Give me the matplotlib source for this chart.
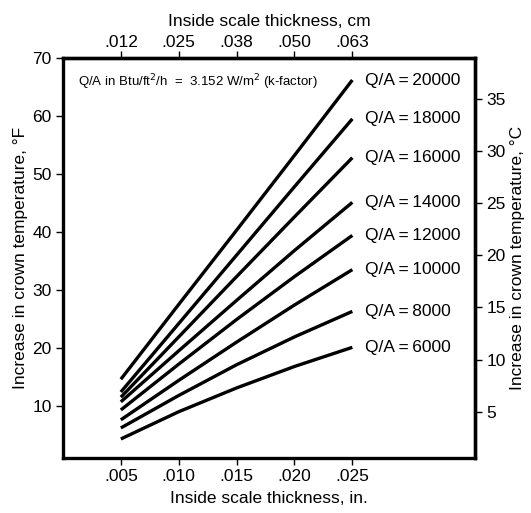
import numpy as np
import matplotlib.pyplot as plt

plt.rcParams['font.family'] = ['Liberation Sans', 'DejaVu Sans']

# inside scale thickness, in.
thickness = [0.005, 0.010, 0.015, 0.020, 0.025]

# increase in crown temperature, F  (one list per heat flux Q/A)
q_values = [20000, 18000, 16000, 14000, 12000, 10000, 8000, 6000]
rise_20000 = [14.6, 27.5, 40.3, 53.2, 66.2]
rise_18000 = [12.4, 24.2, 36.0, 47.8, 59.5]
rise_16000 = [11.5, 21.9, 32.3, 42.6, 52.8]
rise_14000 = [10.7, 19.5, 28.2, 36.8, 45.1]
rise_12000 = [9.3, 17.2, 24.9, 32.3, 39.4]
rise_10000 = [7.6, 14.4, 21.0, 27.4, 33.5]
rise_8000 = [6.2, 11.8, 17.1, 21.9, 26.3]
rise_6000 = [4.3, 9.0, 13.1, 16.8, 20.1]
rises = [rise_20000, rise_18000, rise_16000, rise_14000,
         rise_12000, rise_10000, rise_8000, rise_6000]

bottom_ticks = [0.005, 0.010, 0.015, 0.020, 0.025]
bottom_labels = ['.005', '.010', '.015', '.020', '.025']
top_ticks = [0.0127, 0.0254, 0.0381, 0.0508, 0.0635]
top_labels = ['.012', '.025', '.038', '.050', '.063']
left_ticks = [10, 20, 30, 40, 50, 60, 70]
right_ticks = [5, 10, 15, 20, 25, 30, 35]

fig = plt.figure(figsize=(5.31, 5.13), dpi=100)
ax = fig.add_axes([0.1186, 0.107, 0.776, 0.780])

for q, r in zip(q_values, rises):
    ax.plot(thickness, r, color='black', lw=2.4, solid_capstyle='butt',
            solid_joinstyle='round')
    ax.text(thickness[-1] + 0.0011, r[-1], 'Q/A\u2009=\u2009%d' % q, fontsize=12.5,
            va='center', ha='left')

ax.text(0.0013, 65.8, 'Q/A in Btu/ft$^2$/h  =  3.152 W/m$^2$ (k-factor)',
        fontsize=9.5, va='center', ha='left')

ax.set_xlim(0, 0.0356)
ax.set_ylim(1, 70)
ax.set_xticks(bottom_ticks)
ax.set_xticklabels(bottom_labels)
ax.set_yticks(left_ticks)

for s in ax.spines.values():
    s.set_linewidth(2.4)

ax.tick_params(direction='out', length=5, width=1, labelsize=12.5, pad=3)
ax.set_xlabel('Inside scale thickness, in.', fontsize=12.5, labelpad=5)
ax.set_ylabel('Increase in crown temperature, °F', fontsize=12.5, labelpad=3)

top = ax.secondary_xaxis('top', functions=(lambda x: x * 2.54, lambda x: x / 2.54))
top.set_xticks(top_ticks)
top.set_xticklabels(top_labels)
top.tick_params(direction='out', length=5, width=1, labelsize=12.5, pad=1)
top.set_xlabel('Inside scale thickness, cm', fontsize=12.5, labelpad=6)
top.spines['top'].set_linewidth(2.4)

right = ax.secondary_yaxis('right', functions=(lambda f: f * 5 / 9, lambda c: c * 9 / 5))
right.set_yticks(right_ticks)
right.tick_params(direction='out', length=5, width=1, labelsize=12.5, pad=3)
right.set_ylabel('Increase in crown temperature, °C', fontsize=12.5, labelpad=3)
right.spines['right'].set_linewidth(2.4)

fig.savefig('out.png', dpi=100)
